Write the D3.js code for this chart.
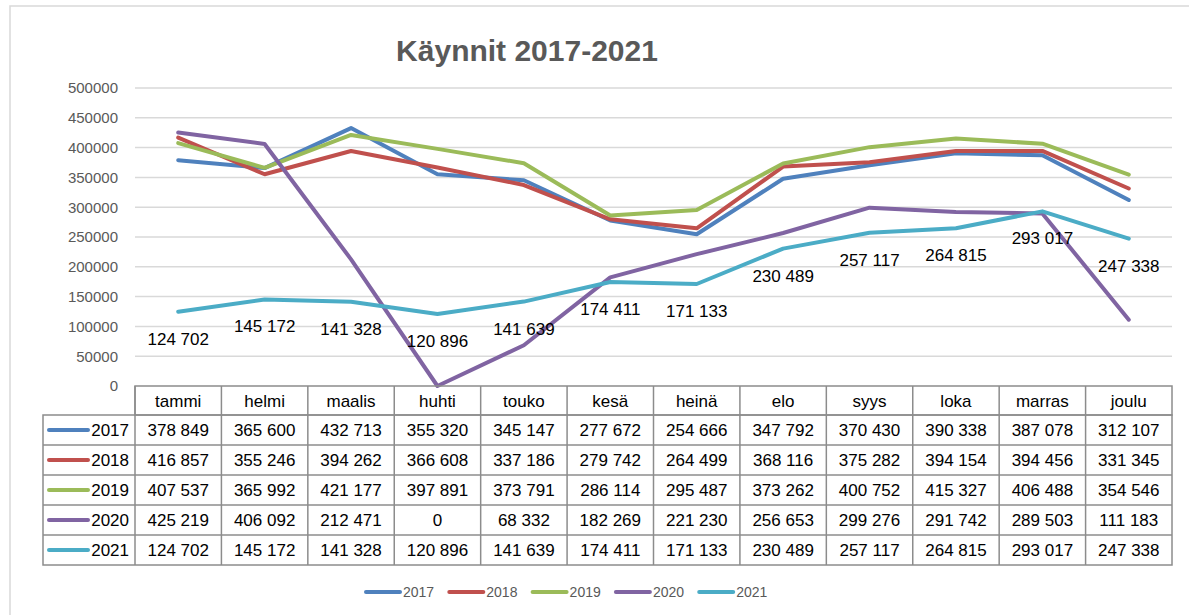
<!DOCTYPE html>
<html><head><meta charset="utf-8">
<script src="https://cdn.jsdelivr.net/npm/d3@7"></script>
<style>body{margin:0;background:#fff}svg{display:block}text{font-family:"Liberation Sans",Arial,sans-serif}</style>
</head><body><svg id="c" width="1189" height="615"></svg>
<script>
const months = ["tammi","helmi","maalis","huhti","touko","kesä","heinä","elo","syys","loka","marras","joulu"];
const years = ["2017","2018","2019","2020","2021"];
const v2017 = [378849,365600,432713,355320,345147,277672,254666,347792,370430,390338,387078,312107];
const v2018 = [416857,355246,394262,366608,337186,279742,264499,368116,375282,394154,394456,331345];
const v2019 = [407537,365992,421177,397891,373791,286114,295487,373262,400752,415327,406488,354546];
const v2020 = [425219,406092,212471,0,68332,182269,221230,256653,299276,291742,289503,111183];
const v2021 = [124702,145172,141328,120896,141639,174411,171133,230489,257117,264815,293017,247338];
const colors = ["#4F81BD","#C0504D","#9BBB59","#8064A2","#4BACC6"];
const yTicks = [0,50000,100000,150000,200000,250000,300000,350000,400000,450000,500000];
const labelledYear = "2021";

const series = years.map((y,i)=>({year:y,values:[v2017,v2018,v2019,v2020,v2021][i],color:colors[i]}));
const fi = d3.formatLocale({decimal:",",thousands:" ",grouping:[3],currency:["","€"]});
const fmt = fi.format(",d");

const svg = d3.select("#c");
// outer chart border
svg.append("rect").attr("x",10).attr("y",6).attr("width",1200).attr("height",620)
  .attr("fill","#fff").attr("stroke","#d9d9d9").attr("stroke-width",1.5);

const x = d3.scaleBand().domain(months).range([135,1172]);
const y = d3.scaleLinear().domain([0,500000]).range([386,88]);
const cx = m => x(m)+x.bandwidth()/2;

// title
svg.append("text").attr("x",527).attr("y",61).attr("text-anchor","middle")
  .attr("font-size",30).attr("font-weight","bold").attr("fill","#595959").text("Käynnit 2017-2021");

// gridlines
svg.append("g").selectAll("line").data(yTicks.filter(t=>t>0)).join("line")
  .attr("x1",135).attr("x2",1172).attr("y1",d=>y(d)).attr("y2",d=>y(d))
  .attr("stroke","#d9d9d9").attr("stroke-width",1.5);

// y axis labels
const yAxis = d3.axisLeft(y).tickValues(yTicks).tickFormat(d3.format("d")).tickSize(0).tickPadding(0);
const ga = svg.append("g").attr("transform","translate(118,0)").call(yAxis);
ga.select(".domain").remove();
ga.selectAll("text").attr("font-size",15).attr("fill","#595959").attr("font-family","Liberation Sans, Arial, sans-serif");

// lines
const line = d3.line().x((d,i)=>cx(months[i])).y(d=>y(d));
svg.append("g").selectAll("path").data(series).join("path")
  .attr("d",d=>line(d.values)).attr("fill","none").attr("stroke",d=>d.color)
  .attr("stroke-width",4).attr("stroke-linejoin","round").attr("stroke-linecap","round");

// data labels for 2021
const ls = series.find(s=>s.year===labelledYear);
svg.append("g").selectAll("text").data(ls.values).join("text")
  .attr("x",(d,i)=>cx(months[i])).attr("y",d=>y(d)+33).attr("text-anchor","middle")
  .attr("font-size",17).attr("fill","#000").text(d=>fmt(d));

// data table
const headTop = 386, headH = 29, rowH = 30, legX = 43;
const rowY = i => headTop+headH+i*rowH;
const tb = svg.append("g");
const bc = "#8c8c8c";
// header row
tb.append("rect").attr("x",135).attr("y",headTop).attr("width",1037).attr("height",headH).attr("fill","none").attr("stroke",bc).attr("stroke-width",1.5);
tb.selectAll(".hdr").data(months).join("text").attr("class","hdr")
  .attr("x",m=>cx(m)).attr("y",headTop+headH/2+6).attr("text-anchor","middle")
  .attr("font-size",17).attr("fill","#000").text(m=>m);
// data rows
tb.append("rect").attr("x",legX).attr("y",rowY(0)).attr("width",1172-legX).attr("height",rowH*years.length)
  .attr("fill","none").attr("stroke",bc).attr("stroke-width",1.5);
tb.selectAll(".hl").data(d3.range(1,years.length)).join("line").attr("class","hl")
  .attr("x1",legX).attr("x2",1172).attr("y1",i=>rowY(i)).attr("y2",i=>rowY(i)).attr("stroke",bc).attr("stroke-width",1.5);
tb.selectAll(".vl").data(months).join("line").attr("class","vl")
  .attr("x1",m=>x(m)).attr("x2",m=>x(m)).attr("y1",headTop).attr("y2",rowY(years.length)).attr("stroke",bc).attr("stroke-width",1.5);
series.forEach((s,i)=>{
  const ry = rowY(i)+rowH/2;
  tb.append("line").attr("x1",49).attr("x2",88).attr("y1",ry).attr("y2",ry)
    .attr("stroke",s.color).attr("stroke-width",4).attr("stroke-linecap","round");
  tb.append("text").attr("x",129).attr("y",ry+6).attr("text-anchor","end").attr("font-size",17).attr("fill","#000").text(s.year);
  tb.selectAll(".c"+i).data(s.values).join("text").attr("class","c"+i)
    .attr("x",(d,j)=>cx(months[j])).attr("y",ry+6).attr("text-anchor","middle")
    .attr("font-size",17).attr("fill","#000").text(d=>fmt(d));
});

// legend
const lg = svg.append("g").selectAll("g").data(series).join("g")
  .attr("transform",(d,i)=>`translate(${366+i*83.3},592)`);
lg.append("line").attr("x1",0).attr("x2",34).attr("y1",0).attr("y2",0)
  .attr("stroke",d=>d.color).attr("stroke-width",4).attr("stroke-linecap","round");
lg.append("text").attr("x",37).attr("y",5).attr("font-size",14).attr("fill","#595959").text(d=>d.year);
</script></body></html>
